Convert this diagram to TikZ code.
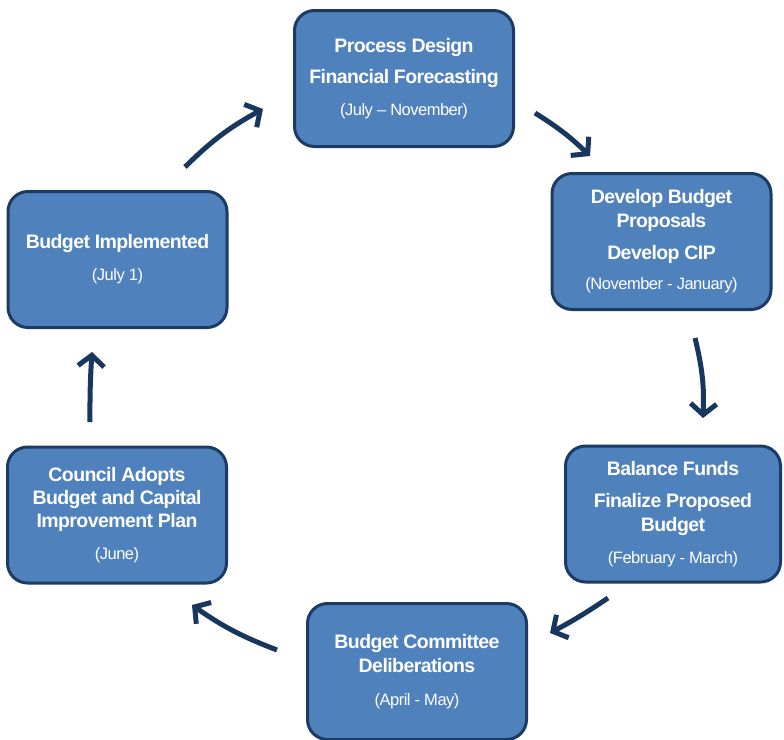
\documentclass[tikz,border=0pt]{standalone}
\usepackage{fontspec}
\setmainfont{Liberation Sans}
\newfontfamily\stagefont[LetterSpace=-3]{Liberation Sans}
\usetikzlibrary{arrows.meta,positioning}
\definecolor{stagefill}{HTML}{4F81BD}
\definecolor{stageline}{HTML}{1B3A64}
\definecolor{flowline}{HTML}{17375E}
\newcommand{\period}[1]{{\fontsize{16.5}{19}\selectfont\mdseries #1}}
\tikzset{
    stagebox/.style={
        draw=stageline, line width=3pt, fill=stagefill, rounded corners=20pt,
        minimum width=219pt, minimum height=136pt, inner sep=0pt,
        text=white, align=center,
        font=\stagefont\fontsize{19.5}{24}\selectfont\bfseries,
        execute at begin node={\rule{0pt}{23pt}}
    },
    flow/.style={
        draw=flowline, line width=5pt,
        -{Straight Barb[length=11pt,width=26pt]}
    }
}
\begin{document}
\begin{tikzpicture}[x=1pt,y=-1pt]
    \useasboundingbox (0,0) rectangle (784,739);
    % the six stages
    \node[stagebox] (design) at (404,78.5)
        {Process Design\\[7pt]Financial Forecasting\\[8pt]\period{(July – November)}};
    \node[stagebox] (proposals) at (661.5,241.5)
        {Develop Budget\\Proposals\\[8pt]Develop CIP\\[6pt]\period{(November - January)}};
    \node[stagebox, minimum width=215pt] (balance) at (673,514)
        {Balance Funds\\[8pt]Finalize Proposed\\Budget\\[8pt]\period{(February - March)}};
    \node[stagebox] (committee) at (417,671.5)
        {Budget Committee\\Deliberations\\[9pt]\period{(April - May)}};
    \node[stagebox] (adopts) at (117,515)
        {Council Adopts\\[-1pt]Budget and Capital\\[-1pt]Improvement Plan\\[8pt]\period{(June)}};
    \node[stagebox] (implemented) at (117.5,259.5)
        {Budget Implemented\\[8pt]\period{(July 1)}};
    % arrow ends
    \coordinate (a1) at (185,167);
    \coordinate (b1) at (263,109);
    \coordinate (a2) at (535,113);
    \coordinate (b2) at (590,156);
    \coordinate (a3) at (695,338);
    \coordinate (b3) at (703,418);
    \coordinate (a4) at (608,598);
    \coordinate (b4) at (550,633);
    \coordinate (a5) at (277,650);
    \coordinate (b5) at (192,605);
    \coordinate (a6) at (90,422);
    \coordinate (b6) at (92,352);
    \draw[flow] (a1) to[bend left=8] (b1);
    \draw[flow] (a2) to[bend left=6] (b2);
    \draw[flow] (a3) to[bend left=8] (b3);
    \draw[flow] (a4) to[bend left=3] (b4);
    \draw[flow] (a5) to[bend left=7] (b5);
    \draw[flow] (a6) to[bend left=2] (b6);
\end{tikzpicture}
\end{document}
